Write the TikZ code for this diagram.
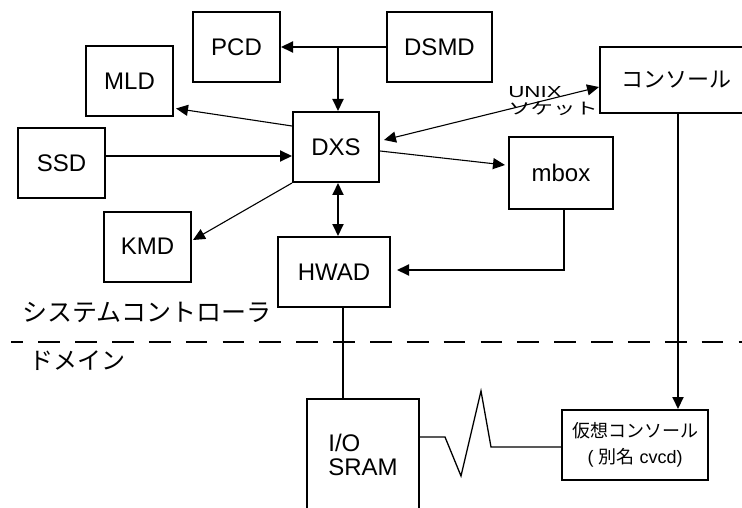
\documentclass[tikz,border=0pt]{standalone}
\usepackage{fontspec}
\setmainfont{Liberation Sans}
\newfontfamily\jp{Noto Sans CJK JP}
\usetikzlibrary{arrows.meta}
\tikzset{
  blk/.style={draw, line width=2pt, minimum width=87pt, minimum height=70pt,
    inner sep=0pt, font=\fontsize{24}{24}\selectfont},
  arr/.style={line width=2pt, -{Triangle[length=12pt,width=11pt]}},
  arrs/.style={line width=2pt, {Triangle[length=12pt,width=11pt]}-{Triangle[length=12pt,width=11pt]}},
  thinarr/.style={line width=1.1pt, -{Triangle[length=12pt,width=11pt]}},
  link/.style={line width=2pt},
}
\begin{document}
\begin{tikzpicture}[x=1pt,y=-1pt]
        \clip (0,0) rectangle (742,508);
        % daemons on the system controller
        \node[blk] (pcd) at (236.5,47) {PCD};
        \node[blk, minimum width=105pt] (dsmd) at (439.5,47) {DSMD};
        \node[blk] (mld) at (129.5,81.5) {MLD};
        \node[blk] (ssd) at (61.5,163.5) {SSD};
        \node[blk, minimum width=86pt] (dxs) at (336,147) {DXS};
        \node[blk] (kmd) at (147.5,246.5) {KMD};
        \node[blk, minimum width=112pt] (hwad) at (334,272) {HWAD};
        \node[blk, minimum width=104pt, minimum height=72pt] (mbox) at (561,173) {mbox};
        \node[blk, minimum width=152pt, minimum height=66pt, font=\jp\fontsize{22}{22}\selectfont] (con) at (676,80) {コンソール};
        % domain side
        \node[blk, minimum width=146pt, align=center, font=\fontsize{18}{26}\selectfont] (virt) at (635,445) {{\jp 仮想コンソール}\\( {\jp 別名} cvcd)};
        \node[blk, minimum width=112pt, minimum height=112pt, align=left] (io) at (363,455) {I/O\\SRAM};
        \coordinate (jn) at (338,47);
        \draw[arr] (dsmd.west) -- (pcd.east);
        \draw[arr] (jn) -- (jn |- dxs.north);
        \draw[thinarr] ([yshift=-15pt]dxs.north west) -- ([xshift=2pt,yshift=9pt]mld.south east);
        \draw[arr] ([yshift=7.5pt]ssd.east) -- ([yshift=7.5pt]ssd.east -| dxs.west);
        \draw[thinarr] (dxs.south west) -- ([xshift=1pt,yshift=6.5pt]kmd.east);
        \draw[arrs] (dxs.south -| jn) -- (hwad.north -| jn);
        \draw[thinarr, {Triangle[length=12pt,width=11pt]}-{Triangle[length=12pt,width=11pt]}] ([xshift=4pt,yshift=7pt]dxs.east) -- ([yshift=-7pt]con.west);
        \node[font=\fontsize{16}{17}\selectfont, align=left, xscale=1.4, inner sep=0pt, anchor=north west] (unix) at (508,86) {UNIX\\{\jp ソケット}};
        \draw[thinarr] ([yshift=-4pt]dxs.east) -- ([xshift=-3pt,yshift=8pt]mbox.west);
        \draw[arr] ([xshift=3pt]mbox.south) |- ([xshift=6pt,yshift=2pt]hwad.east);
        \draw[arr] ([xshift=2pt]con.south) -- ([xshift=2pt]con.south |- virt.north);
        \draw[link] ([xshift=9pt]hwad.south) -- ([xshift=9pt]hwad.south |- io.north);
        \draw[line width=1.3pt] ([yshift=18pt]io.east) -- ++(25,0) -- ++(16,39) -- ++(20,-85) -- ++(10,56) -- ([yshift=-2pt]virt.west);
        % boundary between controller and domain
        \draw[line width=2pt, dash pattern=on 21.7pt off 15.15pt, dash phase=9.5pt] (11,342) -- (742,342);
        \node[anchor=west, inner sep=0pt, font=\jp\fontsize{25}{25}\selectfont] (scl) at (22,312) {システムコントローラ};
        \node[anchor=west, inner sep=0pt, font=\jp\fontsize{24}{24}\selectfont] (dom) at (29,361) {ドメイン};
    \end{tikzpicture}
\end{document}
